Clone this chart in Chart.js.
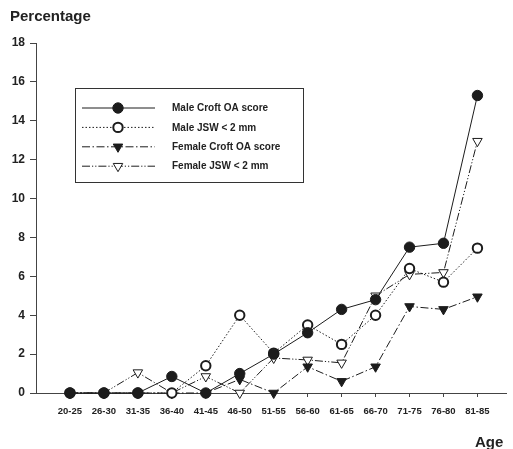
<!DOCTYPE html>
<html>
<head>
<meta charset="utf-8">
<script src="https://cdn.jsdelivr.net/npm/chart.js@4.4.1/dist/chart.umd.min.js"></script>
<style>
  html, body { margin: 0; padding: 0; background: #fff; }
  #wrap { width: 513px; height: 449px; position: relative; }
</style>
</head>
<body>
<div id="wrap"><canvas id="oaChart" width="513" height="449"></canvas></div>
<script>
const ageGroups = ['20-25', '26-30', '31-35', '36-40', '41-45', '46-50', '51-55',
    '56-60', '61-65', '66-70', '71-75', '76-80', '81-85'];
const maleCroft = [0, 0, 0, 0.85, 0, 1.0, 2.0, 3.1, 4.3, 4.8, 7.5, 7.7, 15.3];
const maleJsw = [0, 0, 0, 0, 1.4, 4.0, 2.05, 3.5, 2.5, 4.0, 6.4, 5.7, 7.45];
const femaleCroft = [0, 0, 0, 0, 0, 0.7, 0, 1.35, 0.6, 1.35, 4.45, 4.3, 4.95];
const femaleJsw = [0, 0, 1.05, 0, 0.85, 0, 1.8, 1.7, 1.55, 5.0, 6.1, 6.2, 12.95];
const yTicks = [0, 2, 4, 6, 8, 10, 12, 14, 16, 18];

const ink = '#1c1c1c';
const font = '"Liberation Sans", Arial, sans-serif';

function points(values) {
    return values.map((v, i) => ({ x: i, y: v }));
}

// legend with line sample + marker, framed box inside the plot
const boxLegend = {
    id: 'boxLegend',
    afterDraw: (chart) => {
        const { ctx } = chart;
        ctx.save();
        ctx.strokeStyle = '#333';
        ctx.lineWidth = 1;
        ctx.setLineDash([]);
        ctx.strokeRect(75.5, 88.5, 228, 94);
        chart.data.datasets.forEach((ds, i) => {
            const y = 108 + i * 19.4;
            ctx.strokeStyle = ink;
            ctx.lineWidth = 1;
            ctx.setLineDash(ds.borderDash || []);
            ctx.beginPath();
            ctx.moveTo(82, y);
            ctx.lineTo(155, y);
            ctx.stroke();
            ctx.setLineDash([]);
            ctx.fillStyle = ds.pointBackgroundColor;
            ctx.strokeStyle = ink;
            ctx.lineWidth = ds.pointBorderWidth;
            Chart.helpers.drawPoint(ctx, {
                pointStyle: ds.pointStyle,
                radius: ds.pointRadius,
                rotation: ds.pointRotation || 0,
                borderWidth: ds.pointBorderWidth
            }, 118, y);
            ctx.fillStyle = '#222';
            ctx.font = 'bold 10px ' + font;
            ctx.textBaseline = 'middle';
            ctx.fillText(ds.label, 172, y + 0.5);
        });
        // axis titles
        ctx.fillStyle = '#222';
        ctx.textBaseline = 'alphabetic';
        ctx.font = 'bold 15px ' + font;
        ctx.fillText('Percentage', 10, 21);
        ctx.fillText('Age', 475, 447);
        ctx.restore();
    }
};

const common = {
    borderColor: ink,
    borderWidth: 1,
    pointBorderColor: ink,
    clip: false,
    tension: 0
};

new Chart(document.getElementById('oaChart'), {
    type: 'line',
    data: {
        datasets: [{
            ...common,
            label: 'Male Croft OA score',
            data: points(maleCroft),
            pointStyle: 'circle',
            pointRadius: 5.2,
            pointBorderWidth: 1,
            pointBackgroundColor: ink
        }, {
            ...common,
            label: 'Male JSW < 2 mm',
            data: points(maleJsw),
            borderDash: [1.5, 2],
            pointStyle: 'circle',
            pointRadius: 4.7,
            pointBorderWidth: 2,
            pointBackgroundColor: '#fff'
        }, {
            ...common,
            label: 'Female Croft OA score',
            data: points(femaleCroft),
            borderDash: [8, 2.5, 1.5, 2.5],
            pointStyle: 'triangle',
            pointRotation: 180,
            pointRadius: 5.5,
            pointBorderWidth: 1,
            pointBackgroundColor: ink
        }, {
            ...common,
            label: 'Female JSW < 2 mm',
            data: points(femaleJsw),
            borderDash: [8, 2, 1.2, 2, 1.2, 2],
            pointStyle: 'triangle',
            pointRotation: 180,
            pointRadius: 5.5,
            pointBorderWidth: 1,
            pointBackgroundColor: '#fff'
        }]
    },
    options: {
        responsive: false,
        animation: false,
        layout: { padding: { top: 43, right: 0, bottom: 0, left: 0 } },
        plugins: {
            legend: { display: false },
            tooltip: { enabled: false }
        },
        scales: {
            x: {
                type: 'linear',
                min: -1,
                max: 12.85,
                afterFit: (scale) => { scale.height = 56; },
                afterBuildTicks: (scale) => {
                    scale.ticks = ageGroups.map((g, i) => ({ value: i }));
                },
                border: { color: '#444', width: 1 },
                grid: { drawOnChartArea: false, color: '#444', tickLength: 4 },
                ticks: {
                    autoSkip: false,
                    maxRotation: 0,
                    padding: 9,
                    color: '#222',
                    font: { family: font, size: 9.5, weight: 'bold' },
                    callback: (value) => ageGroups[value] ?? ''
                }
            },
            y: {
                min: 0,
                max: 18,
                afterFit: (scale) => { scale.width = 36; },
                afterBuildTicks: (scale) => {
                    scale.ticks = yTicks.map(v => ({ value: v }));
                },
                border: { color: '#444', width: 1 },
                grid: { drawOnChartArea: false, color: '#444', tickLength: 6 },
                ticks: {
                    padding: 5,
                    color: '#222',
                    font: { family: font, size: 12, weight: 'bold' }
                }
            }
        }
    },
    plugins: [boxLegend]
});
</script>
</body>
</html>
